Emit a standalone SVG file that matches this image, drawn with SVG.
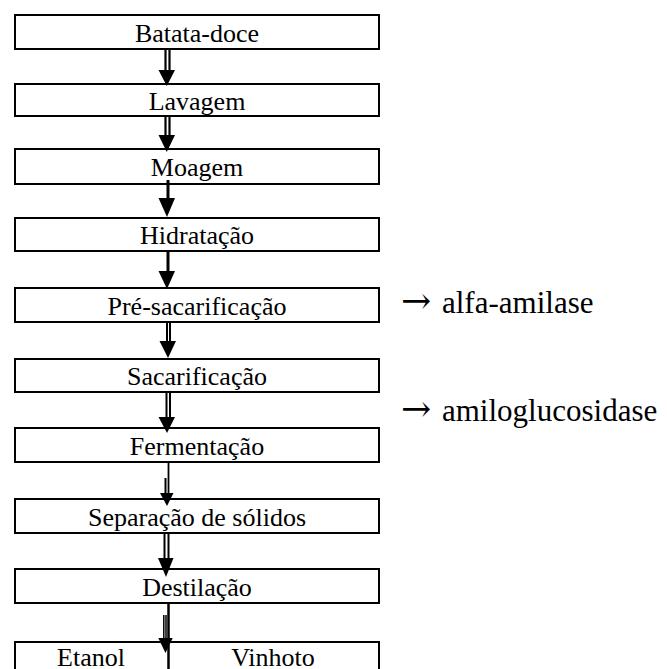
<svg xmlns="http://www.w3.org/2000/svg" width="667" height="669" viewBox="0 0 667 669">
<style>
.box{fill:#fff;stroke:#000;stroke-width:2}
.t{font-family:'Liberation Serif','DejaVu Serif',serif;font-size:26px;fill:#000;text-anchor:middle}
.lbl{font-family:'Liberation Serif','DejaVu Serif',serif;font-size:31px;fill:#000}
.ar{font-family:'DejaVu Serif','Liberation Serif',serif;font-size:36px}
.sh{stroke:#000;fill:none}
.hd{fill:#000;stroke:none}
</style>
<rect width="667" height="669" fill="#fff"/>
<g id="n1"><rect class="box" x="15" y="15" width="364" height="34"/><text class="t" x="197" y="42">Batata-doce</text></g>
<g id="n2"><rect class="box" x="15" y="84" width="364" height="32"/><text class="t" x="197" y="110">Lavagem</text></g>
<g id="n3"><rect class="box" x="15" y="149" width="364" height="35"/><text class="t" x="197" y="176">Moagem</text></g>
<g id="n4"><rect class="box" x="15" y="218" width="364" height="33"/><text class="t" x="197" y="244">Hidratação</text></g>
<g id="n5"><rect class="box" x="15" y="288" width="364" height="34"/><text class="t" x="197" y="315">Pré-sacarificação</text></g>
<g id="n6"><rect class="box" x="15" y="359" width="364" height="33"/><text class="t" x="197" y="385">Sacarificação</text></g>
<g id="n7"><rect class="box" x="15" y="428" width="364" height="34"/><text class="t" x="197" y="455">Fermentação</text></g>
<g id="n8"><rect class="box" x="15" y="499" width="364" height="34"/><text class="t" x="197" y="526">Separação de sólidos</text></g>
<g id="n9"><rect class="box" x="15" y="569" width="364" height="34"/><text class="t" x="197" y="596">Destilação</text></g>
<g id="n10"><rect class="box" x="15" y="642" width="364" height="40"/><line x1="168.5" y1="642" x2="168.5" y2="669" stroke="#000" stroke-width="2.5"/><text class="t" x="91" y="666">Etanol</text><text class="t" x="273" y="666">Vinhoto</text></g>
<g id="l1"><text class="lbl" x="401" y="313"><tspan class="ar">→</tspan> <tspan x="442">alfa-amilase</tspan></text></g>
<g id="l2"><text class="lbl" x="401" y="421"><tspan class="ar">→</tspan> <tspan x="442">amiloglucosidase</tspan></text></g>
<g id="connectors">
<path class="sh" stroke-width="2.2" d="M165.5 50V72M169.5 50V72"/>
<polygon class="hd" points="158.5,70 175,70 166.8,86"/>
<path class="sh" stroke-width="2.2" d="M165.5 117V137M169.5 117V137"/>
<polygon class="hd" points="158.5,135 175,135 166.8,152"/>
<path class="sh" stroke-width="3" d="M168 180V200"/>
<polygon class="hd" points="158.5,198 175,198 167,217"/>
<path class="sh" stroke-width="3" d="M168 252V273"/>
<polygon class="hd" points="158.5,271 175,271 167,289"/>
<path class="sh" stroke-width="2" d="M167 323V343M170 323V343"/>
<polygon class="hd" points="159.5,341 176,341 168,358"/>
<path class="sh" stroke-width="2" d="M166.5 393V419M170 393V419"/>
<polygon class="hd" points="158.5,417 175,417 167,433"/>
<path class="sh" stroke-width="1.8" d="M168.5 463V495"/>
<path class="sh" stroke-width="2" d="M165.5 478V495"/>
<polygon class="hd" points="160,493 173.5,493 167,506"/>
<path class="sh" stroke-width="2" d="M164.5 534V560M168.5 534V560"/>
<polygon class="hd" points="158,558 173.5,558 166,577"/>
<path class="sh" stroke-width="2.5" d="M168.5 603V642"/>
<path class="sh" stroke-width="1.5" d="M163.8 615V640M166 615V640"/>
<polygon class="hd" points="158.3,638 172.7,638 165.5,653"/>
</g>
</svg>
